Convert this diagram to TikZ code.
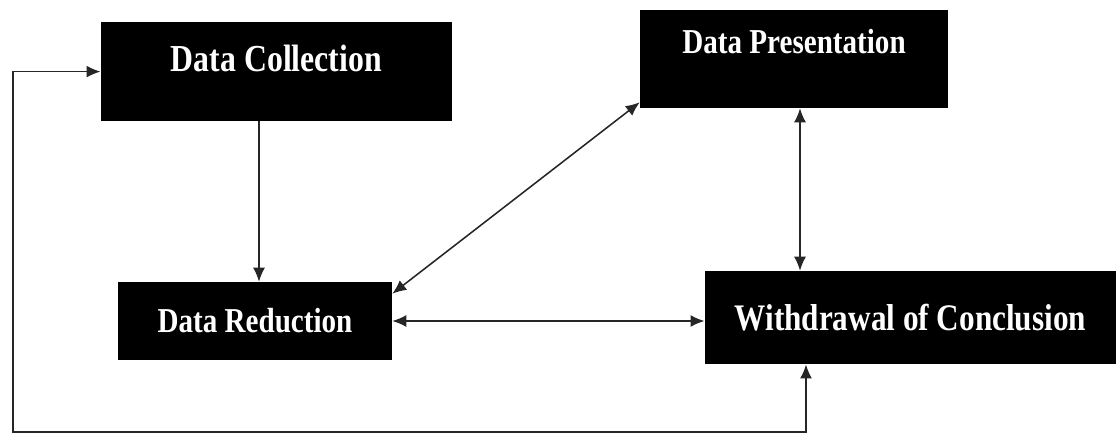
\documentclass[tikz,border=0pt]{standalone}
\usepackage{fontspec}
\usepackage{graphicx}
\setmainfont{Liberation Serif}
\usetikzlibrary{arrows.meta}
\newcommand{\tallbf}[1]{\scalebox{1}[1.2]{\bfseries #1}}

\begin{document}
\begin{tikzpicture}[
    block/.style={fill=black, text=white, inner sep=0pt},
    link/.style={draw=black!85, line width=1.1pt, -{Latex[length=3.5mm,width=3mm]}},
    twoway/.style={link, {Latex[length=3.5mm,width=3mm]}-{Latex[length=3.5mm,width=3mm]}}
    ]
    \useasboundingbox (0,0) rectangle (28,-10.875);

    % Cajas
    \node[block, minimum width=8.78cm, minimum height=2.48cm, font=\fontsize{22.6}{24}\selectfont,
          text height=20pt, text depth=20pt] (collection) at (6.91,-1.79) {\tallbf{Data Collection}};
    \node[block, minimum width=7.7cm, minimum height=2.45cm, font=\fontsize{20.7}{22}\selectfont,
          text height=18pt, text depth=25.6pt] (presentation) at (19.85,-1.475) {\tallbf{Data Presentation}};
    \node[block, minimum width=6.85cm, minimum height=1.95cm, font=\fontsize{20.7}{22}\selectfont]
          (reduction) at (6.375,-8.025) {\tallbf{Data Reduction}};
    \node[block, minimum width=10.28cm, minimum height=2.33cm, font=\fontsize{22.2}{24}\selectfont]
          (conclusion) at (22.76,-7.94) {\tallbf{Withdrawal of Conclusion}};

    % Esquinas del retorno
    \coordinate (loop) at (0.32,-10.8);
    \coordinate (turn) at (20.15,-10.8);

    % Flechas
    \draw[link] ([xshift=0.1cm]reduction.north |- collection.south) -- ([xshift=0.1cm]reduction.north);
    \draw[twoway] ([yshift=-0.3cm]reduction.north east) -- ([yshift=0.15cm]presentation.south west);
    \draw[twoway] ([xshift=0.15cm]presentation.south) -- ([xshift=0.15cm]presentation.south |- conclusion.north);
    \draw[twoway] (reduction.east) -- (conclusion.west |- reduction.east);
    % Retorno
    \draw[twoway] (collection.west) -| (loop) -- (turn) -- (turn |- conclusion.south);
\end{tikzpicture}
\end{document}
